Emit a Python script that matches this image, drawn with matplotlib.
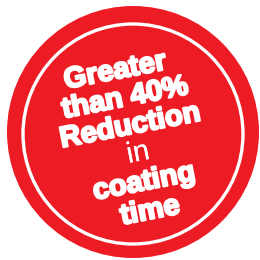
import matplotlib.pyplot as plt
from matplotlib.patches import Circle
import matplotlib.patheffects as pe

# Badge text, one entry per line
lines = ['Greater', 'than 40%', 'Reduction', 'in', 'coating', 'time']
weights = ['bold', 'bold', 'bold', 'normal', 'bold', 'bold']
centers_x = [115, 125, 130, 138, 144, 150]
centers_y = [71, 98, 126, 153, 182, 211]

red = '#ed1c24'

fig = plt.figure(figsize=(2.6, 2.6), dpi=100)
ax = fig.add_axes([0, 0, 1, 1])
ax.set_xlim(0, 260)
ax.set_ylim(260, 0)
ax.set_aspect('equal')
ax.axis('off')

# outer red disc and inner white ring
ax.add_patch(Circle((133, 132), 126, facecolor=red, edgecolor='none'))
ax.add_patch(Circle((133, 134), 110, facecolor='none', edgecolor='white', linewidth=2.4))

for txt, w, x, y in zip(lines, weights, centers_x, centers_y):
    # extra stroke on bold lines to get the heavy "black" look
    stroke = 1.6 if w == 'bold' else 0.0
    ax.text(x, y, txt, color='white', fontsize=21, fontweight=w,
            family='Liberation Sans', rotation=11, rotation_mode='anchor',
            ha='center', va='center',
            path_effects=[pe.withStroke(linewidth=stroke, foreground='white')])

fig.savefig('out.png', dpi=100)
